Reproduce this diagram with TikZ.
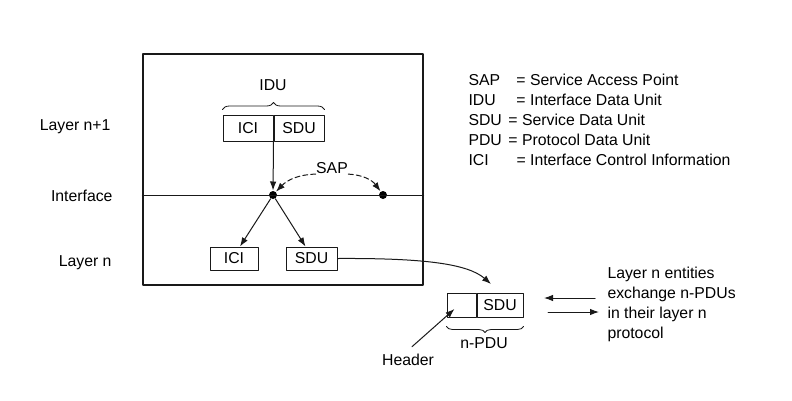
\documentclass[tikz,border=0pt]{standalone}
\usepackage{fontspec}
\setmainfont{Liberation Sans}
\usetikzlibrary{arrows.meta,calc,positioning,decorations.pathreplacing}
\definecolor{layerline}{RGB}{25,25,25}

\begin{document}
\begin{tikzpicture}[>={Latex[length=9pt,width=6.5pt]},x=1pt,y=1pt,line cap=round,line join=round,
  font=\fontsize{15.8}{19.8}\selectfont,line width=1pt,draw=layerline,
  cell/.style={draw=layerline,line width=1pt,minimum height=26,inner sep=0pt},
  sapdot/.style={circle,fill=black,inner sep=0pt,minimum size=8},
  pdubrace/.style={decorate,decoration={brace,amplitude=7pt},line width=0.8pt},
  sapline/.style={->,dash pattern=on 5pt off 3pt},
  lbl/.style={inner sep=0pt}]
 \useasboundingbox (0,0) rectangle (792,-400);

 % the two layers and the interface between them
 \node[draw=layerline,line width=1.3pt,minimum width=280,minimum height=231,inner sep=0pt]
  (layers) at (283,-169.5) {};
 \node[sapdot] (sapa) at (273,-195) {};
 \node[sapdot] (sapb) at (383,-195) {};
 \draw (layers.west |- sapa) -- (layers.east |- sapa);

 \node[lbl,anchor=east] (ln1) at (111,-127) {Layer n+1};
 \node[lbl,anchor=east] (lif) at (113,-196) {Interface};
 \node[lbl,anchor=east] (ln) at (112,-263) {Layer n};

 % IDU in layer n+1
 \node[cell,minimum width=50] (iciup) at (248,-128) {ICI};
 \node[cell,minimum width=50,right=0pt of iciup] (sduup) {SDU};
 \draw[pdubrace] ([yshift=5]iciup.north west) -- ([yshift=5]sduup.north east);
 \node[lbl] (idu) at (273,-85) {IDU};
 \draw[->] (sduup.south west) -- (sapa);

 % SAP
 \node[lbl] (sap) at (332,-168) {SAP};
 \draw[sapline] (sap.south west) to[bend right=22] (sapa);
 \draw[sapline] (sap.south east) to[bend left=25] (sapb);

 % layer n
 \node[cell,minimum width=48,minimum height=23] (icilo) at (234,-258.5) {ICI};
 \node[cell,minimum width=51,minimum height=23] (sdulo) at (311.5,-258.5) {SDU};
 \draw[->] (sapa) -- ([xshift=6]icilo.north);
 \draw[->] (sapa) -- ([xshift=-6]sdulo.north);

 % n-PDU
 \node[cell,minimum width=29,minimum height=24] (hdr) at (461.5,-305) {};
 \node[cell,minimum width=46,minimum height=24,right=0pt of hdr] (pdusdu) {SDU};
 \draw[pdubrace,decoration={amplitude=6pt}] ([yshift=-9]pdusdu.south east) -- ([yshift=-9]hdr.south west);
 \node[lbl] (npdu) at (484,-343) {n-PDU};
 \coordinate (pdutip) at (491,-284);
 \draw[->] (sdulo.east) .. controls (425,-258) and (468,-264) .. (pdutip);

 \node[lbl] (hdrlbl) at (408,-360) {Header};
 \draw[->] ([shift={(4,7)}]hdrlbl.north) -- ([shift={(-7,-4)}]hdr.center);

 % peer exchange
 \coordinate (peerin) at (595,-298);
 \coordinate (peerinend) at (544,-298);
 \coordinate (peerout) at (548,-312);
 \coordinate (peeroutend) at (599,-312);
 \draw[->] (peerin) -- (peerinend);
 \draw[->] (peerout) -- (peeroutend);
 \node[lbl,anchor=north west,align=left] (peer) at (607,-267)
  {Layer n entities\\exchange n-PDUs\\in their layer n\\protocol};

 % legend
 \node[lbl,anchor=north west,align=left] (legend) at (468,-74)
  {\makebox[48pt][l]{SAP}= Service Access Point\\
   \makebox[48pt][l]{IDU}= Interface Data Unit\\
   \makebox[40pt][l]{SDU}= Service Data Unit\\
   \makebox[40pt][l]{PDU}= Protocol Data Unit\\
   \makebox[48pt][l]{ICI}= Interface Control Information};
\end{tikzpicture}
\end{document}
